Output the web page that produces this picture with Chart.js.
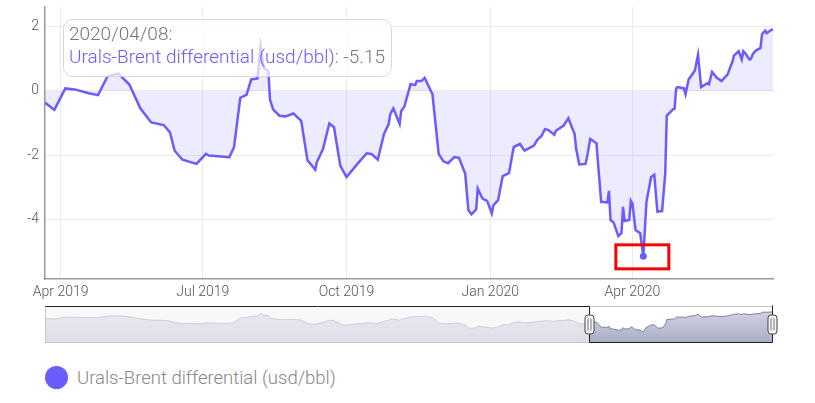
<!DOCTYPE html>
<html>
<head>
<meta charset="utf-8">
<script src="https://cdn.jsdelivr.net/npm/chart.js@4.4.1/dist/chart.umd.min.js"></script>
<style>
  html, body { margin: 0; padding: 0; background: #fff; }
  body { width: 815px; height: 403px; position: relative; overflow: hidden;
         font-family: Roboto, 'Open Sans', sans-serif; font-weight: 300; }
  #mainWrap { position: absolute; left: 0; top: 0; width: 815px; height: 300px; }
  #navWrap { position: absolute; left: 35px; top: 305px; width: 750px; height: 38px; }
  #tip { position: absolute; left: 63px; top: 19px; width: 329px; height: 58px; box-sizing: border-box;
         border: 1px solid #d8d8d8; border-radius: 10px; background: rgba(255,255,255,0.72);
         padding: 3px 0 0 5px; font-size: 19px; line-height: 22.5px; color: #777; white-space: nowrap; }
  #tip .s { color: #6a5cff; }
  #legend { position: absolute; left: 45px; top: 366px; height: 24px; font-size: 18.5px; color: #888;
            white-space: nowrap; line-height: 24px; }
  #legend .dot { display: inline-block; width: 23px; height: 23px; border-radius: 50%; background: #6a5cff;
                 vertical-align: top; margin-right: 9px; }
</style>
</head>
<body>
<div id="mainWrap"><canvas id="main" width="815" height="300"></canvas></div>
<div id="navWrap"><canvas id="nav" width="750" height="38"></canvas></div>
<div id="tip"></div>
<div id="legend"></div>
<script>
const seriesName = 'Urals-Brent differential (usd/bbl)';

const dates = [
  '2019-03-22', '2019-03-28', '2019-04-04', '2019-04-10', '2019-04-19', '2019-04-25',
  '2019-05-01', '2019-05-08', '2019-05-15', '2019-05-22', '2019-05-29', '2019-06-06',
  '2019-06-10', '2019-06-13', '2019-06-18', '2019-06-27', '2019-07-03', '2019-07-05',
  '2019-07-18', '2019-07-21', '2019-07-25', '2019-07-29', '2019-08-01', '2019-08-05',
  '2019-08-07', '2019-08-09', '2019-08-12', '2019-08-13', '2019-08-15', '2019-08-19',
  '2019-08-23', '2019-08-28', '2019-09-02', '2019-09-06', '2019-09-11', '2019-09-12',
  '2019-09-16', '2019-09-20', '2019-09-23', '2019-09-27', '2019-10-01', '2019-10-08',
  '2019-10-14', '2019-10-17', '2019-10-21', '2019-10-25', '2019-10-28', '2019-10-29',
  '2019-10-31', '2019-11-04', '2019-11-05', '2019-11-07', '2019-11-11', '2019-11-14',
  '2019-11-15', '2019-11-18', '2019-11-20', '2019-11-25', '2019-11-29', '2019-12-02',
  '2019-12-05', '2019-12-09', '2019-12-12', '2019-12-16', '2019-12-18', '2019-12-20',
  '2019-12-23', '2019-12-24', '2019-12-27', '2019-12-30', '2020-01-02', '2020-01-03',
  '2020-01-06', '2020-01-09', '2020-01-13', '2020-01-16', '2020-01-20', '2020-01-23',
  '2020-01-29', '2020-01-31', '2020-02-03', '2020-02-05', '2020-02-07', '2020-02-11',
  '2020-02-12', '2020-02-17', '2020-02-20', '2020-02-24', '2020-02-25', '2020-02-27',
  '2020-03-02', '2020-03-03', '2020-03-05', '2020-03-09', '2020-03-12', '2020-03-16',
  '2020-03-17', '2020-03-18', '2020-03-20', '2020-03-23', '2020-03-25', '2020-03-26',
  '2020-03-27', '2020-03-30', '2020-03-31', '2020-04-01', '2020-04-03', '2020-04-06',
  '2020-04-08', '2020-04-10', '2020-04-13', '2020-04-15', '2020-04-17', '2020-04-20',
  '2020-04-22', '2020-04-23', '2020-04-27', '2020-04-28', '2020-04-29', '2020-04-30',
  '2020-05-04', '2020-05-05', '2020-05-07', '2020-05-11', '2020-05-13', '2020-05-15',
  '2020-05-19', '2020-05-20', '2020-05-22', '2020-05-25', '2020-05-26', '2020-05-28',
  '2020-06-01', '2020-06-03', '2020-06-04', '2020-06-05', '2020-06-08', '2020-06-10',
  '2020-06-11', '2020-06-12', '2020-06-15', '2020-06-16', '2020-06-17', '2020-06-19',
  '2020-06-22', '2020-06-23', '2020-06-25', '2020-06-26', '2020-06-29', '2020-06-30'
];

const values = [
  -0.36, -0.59, 0.08, 0.05, -0.07, -0.13,
  0.46, 0.54, 0.20, -0.54, -0.98, -1.06,
  -1.29, -1.86, -2.14, -2.27, -1.96, -2.01,
  -2.06, -1.75, -0.21, -0.12, 0.36, 0.39,
  1.39, 0.72, 0.62, -0.26, -0.57, -0.77,
  -0.79, -0.70, -0.93, -2.16, -2.45, -2.22,
  -1.80, -1.01, -1.13, -2.32, -2.68, -2.27,
  -1.94, -1.96, -2.14, -1.34, -1.03, -0.72,
  -0.54, -1.03, -0.62, -0.49, 0.21, 0.19,
  0.31, 0.31, 0.41, -0.10, -1.96, -2.19,
  -2.25, -2.06, -2.08, -2.58, -3.71, -3.84,
  -3.69, -3.04, -3.35, -3.42, -3.81, -3.56,
  -3.40, -2.65, -2.56, -1.75, -1.65, -1.86,
  -1.70, -1.53, -1.39, -1.19, -1.21, -1.36,
  -1.24, -1.08, -0.85, -1.34, -1.80, -2.29,
  -2.27, -2.06, -1.49, -1.63, -3.45, -3.47,
  -3.11, -4.02, -4.10, -4.52, -4.43, -3.61,
  -4.05, -4.02, -3.42, -3.50, -4.33, -4.43,
  -5.15, -3.45, -2.68, -2.61, -3.76, -3.74,
  -2.58, -0.77, -0.57, -0.55, 0.08, 0.12,
  0.08, -0.10, 0.36, 0.64, 1.13, 0.12,
  0.24, 0.21, 0.59, 0.41, 0.38, 0.31,
  0.52, 0.79, 0.90, 1.10, 1.24, 0.98,
  1.24, 1.19, 0.98, 1.01, 1.15, 1.26,
  1.34, 1.77, 1.88, 1.80, 1.91, 1.91
];

const xTickDates = ['2019-04-01', '2019-07-01', '2019-10-01', '2020-01-01', '2020-04-01'];
const xTickLabels = ['Apr 2019', 'Jul 2019', 'Oct 2019', 'Jan 2020', 'Apr 2020'];
const yTicks = [-4, -2, 0, 2];
const navWindowStart = '2020-03-04';

const DAY = 86400000;
const origin = Date.UTC(2019, 3, 1);
function dayNum(s) {
  const [y, m, d] = s.split('-').map(Number);
  return (Date.UTC(y, m - 1, d) - origin) / DAY;
}

const points = dates.map((d, i) => ({ x: dayNum(d), y: values[i] }));
const xMin = points[0].x;
const xMax = points[points.length - 1].x;
const vMin = Math.min(...values);
const vMax = Math.max(...values);
const pad = (vMax - vMin) * 0.1; // same padding as the original
const minIdx = values.indexOf(vMin);

const lineColor = '#6a5cff';
const fontFam = "Roboto, 'Open Sans', sans-serif";
const tickFont = { family: fontFam, size: 14, weight: '300' };

// red box around the lowest point
const redBox = {
  id: 'redBox',
  afterDatasetsDraw(chart) {
    const pt = chart.getDatasetMeta(0).data[minIdx];
    const c = chart.ctx;
    c.save();
    c.strokeStyle = '#ff0000';
    c.lineWidth = 3;
    c.strokeRect(pt.x - 27.5, pt.y - 11.5, 53, 24);
    c.restore();
  }
};

new Chart(document.getElementById('main'), {
  type: 'line',
  data: {
    datasets: [{
      label: seriesName,
      data: points,
      borderColor: lineColor,
      borderWidth: 2.5,
      backgroundColor: 'rgba(106,92,255,0.12)',
      fill: { value: 0 },
      tension: 0,
      pointRadius: c => c.dataIndex === minIdx ? 3.5 : 0,
      pointBackgroundColor: lineColor,
      pointBorderWidth: 0
    }]
  },
  options: {
    responsive: false,
    animation: false,
    events: [],
    layout: { padding: { top: 7, right: 42, left: 0, bottom: 0 } },
    plugins: { legend: { display: false }, tooltip: { enabled: false } },
    scales: {
      x: {
        type: 'linear',
        min: xMin,
        max: xMax,
        afterBuildTicks: s => { s.ticks = xTickDates.map(d => ({ value: dayNum(d) })); },
        afterFit: s => { s.height = 21; s.paddingLeft = 0; s.paddingRight = 0; },
        ticks: {
          callback: (v, i) => xTickLabels[i],
          color: '#555', font: tickFont, padding: 5, maxRotation: 0, autoSkip: false
        },
        grid: { color: '#ebebeb', drawTicks: false },
        border: { color: '#999', width: 1.5 }
      },
      y: {
        min: vMin - pad,
        max: vMax + pad,
        afterBuildTicks: s => { s.ticks = yTicks.map(v => ({ value: v })); },
        afterFit: s => { s.width = 45; s.paddingTop = 0; s.paddingBottom = 0; },
        ticks: { color: '#555', font: tickFont, padding: 6 },
        grid: { color: '#ebebeb', drawTicks: false },
        border: { color: '#999', width: 1.5 }
      }
    }
  },
  plugins: [redBox]
});

// range selector underneath
const navDecor = {
  id: 'navDecor',
  afterDraw(chart) {
    const c = chart.ctx;
    const a = chart.chartArea;
    const xs = chart.scales.x;
    const selL = Math.round(xs.getPixelForValue(dayNum(navWindowStart))) + 0.5;
    const selR = Math.round(a.right) - 0.5;
    const top = a.top + 0.5, bot = Math.round(a.bottom) - 0.5, left = a.left + 0.5;
    c.save();
    c.fillStyle = 'rgba(244,244,246,0.68)';
    c.fillRect(a.left, a.top, selL - a.left, a.bottom - a.top);
    c.strokeStyle = '#c8c8c8';
    c.lineWidth = 1;
    c.strokeRect(left, top, selR - left, bot - top);
    c.strokeStyle = '#222';
    c.beginPath();
    c.moveTo(left, top);
    c.lineTo(selL, top);
    c.lineTo(selL, bot);
    c.lineTo(selR, bot);
    c.lineTo(selR, top - 1);
    c.stroke();
    const cy = (a.top + a.bottom) / 2;
    [selL, selR].forEach(x => {
      c.beginPath();
      c.roundRect(x - 4.5, cy - 9.5, 9, 19, 3);
      c.fillStyle = '#f4f4f4';
      c.fill();
      c.strokeStyle = '#444';
      c.stroke();
      c.beginPath();
      c.moveTo(x - 1.5, cy - 6); c.lineTo(x - 1.5, cy + 6);
      c.moveTo(x + 1.5, cy - 6); c.lineTo(x + 1.5, cy + 6);
      c.strokeStyle = '#777';
      c.stroke();
    });
    c.restore();
  }
};

new Chart(document.getElementById('nav'), {
  type: 'line',
  data: {
    datasets: [{
      data: points,
      borderColor: '#7b7fa8',
      borderWidth: 1,
      backgroundColor: ctx => {
        const a = ctx.chart.chartArea;
        if (!a) return '#c0c2d6';
        const g = ctx.chart.ctx.createLinearGradient(0, a.top, 0, a.bottom);
        g.addColorStop(0, '#d8d9e6');
        g.addColorStop(1, '#a9acc6');
        return g;
      },
      fill: 'start',
      tension: 0,
      pointRadius: 0
    }]
  },
  options: {
    responsive: false,
    animation: false,
    events: [],
    layout: { padding: { top: 1, right: 12, left: 10, bottom: 0 } },
    plugins: { legend: { display: false }, tooltip: { enabled: false } },
    scales: {
      x: { type: 'linear', display: false, min: xMin, max: xMax },
      y: { display: false, min: -9, max: 4 }
    }
  },
  plugins: [navDecor]
});

const d = dates[minIdx].replace(/-/g, '/');
document.getElementById('tip').innerHTML =
  '<div>' + d + ':</div><div><span class="s">' + seriesName + '</span>: ' + values[minIdx].toFixed(2) + '</div>';
document.getElementById('legend').innerHTML = '<span class="dot"></span>' + seriesName;
</script>
</body>
</html>
